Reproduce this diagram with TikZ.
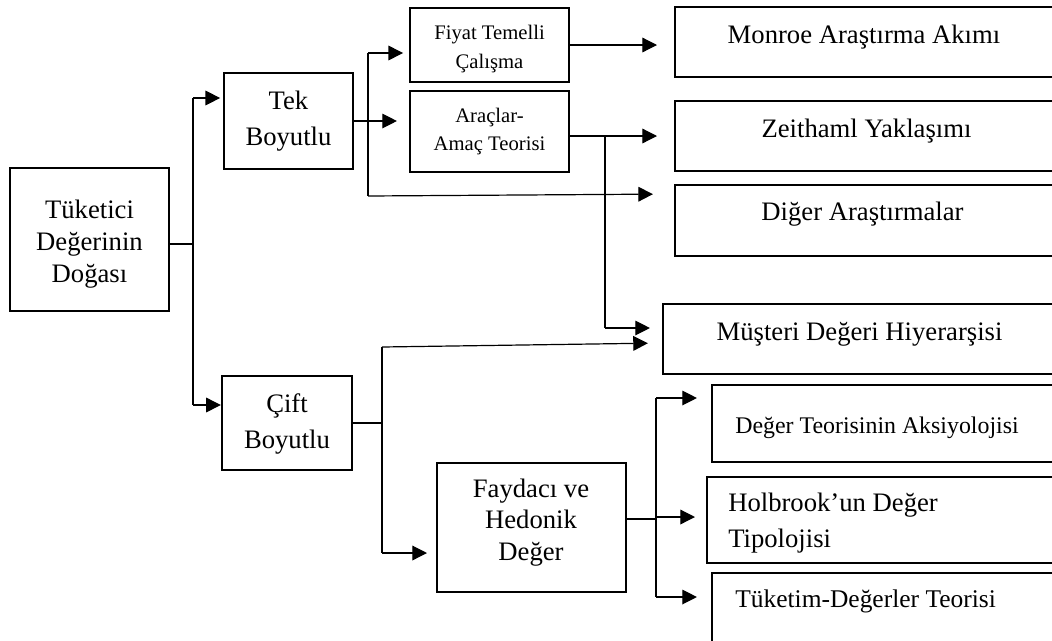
\documentclass[tikz,border=0pt]{standalone}
\usepackage{fontspec}
\setmainfont{Liberation Serif}
\usetikzlibrary{arrows.meta,fit,calc}
\begin{document}
\begin{tikzpicture}[x=0.75pt,y=-0.75pt,
  box/.style={draw, line width=1.8pt, inner sep=0pt},
  wire/.style={line width=0.9pt},
  arr/.style={wire, -{Triangle[length=11pt,width=11pt]}},
  lbl/.style={anchor=base, inner sep=0pt, align=center,
    font=\fontsize{20pt}{24pt}\selectfont},
  small/.style={font=\fontsize{15.5pt}{21.5pt}\selectfont},
]
\clip (0,0) rectangle (1052,640);

% boxes (corner to corner)
\node[box, fit={(10,168)(169,311)}]  (tuk) {};
\node[box, fit={(224,73)(353,169)}]  (tek) {};
\node[box, fit={(222,376)(352,470)}] (cift) {};
\node[box, fit={(410,8)(569,82)}]    (fiyat) {};
\node[box, fit={(410,91)(569,172)}]  (arac) {};
\node[box, fit={(437,463)(626,592)}] (fayd) {};
\node[box, fit={(675,7)(1060,77)}]    (monroe) {};
\node[box, fit={(675,101)(1060,171)}] (zeit) {};
\node[box, fit={(675,185)(1060,256)}] (diger) {};
\node[box, fit={(663,304)(1060,374)}] (must) {};
\node[box, fit={(712,385)(1060,462)}] (aksi) {};
\node[box, fit={(707,477)(1060,563)}] (holb) {};
\node[box, fit={(712,573)(1060,660)}] (tukt) {};

% texts (placed by the baseline of their last line)
\node[lbl] (tuk-t) at (89.5,282) {Tüketici\\Değerinin\\Doğası};
\node[lbl, font=\fontsize{20pt}{27pt}\selectfont] (tek-t) at (288.5,145) {Tek\\Boyutlu};
\node[lbl, font=\fontsize{20pt}{26.5pt}\selectfont] (cift-t) at (287,448) {Çift\\Boyutlu};
\node[lbl, small] (fiyat-t) at (489.5,68) {Fiyat Temelli\\Çalışma};
\node[lbl, font=\fontsize{15.5pt}{21pt}\selectfont] (arac-t) at (489.5,150) {Araçlar-\\Amaç Teorisi};
\node[lbl, font=\fontsize{20pt}{23.3pt}\selectfont] (fayd-t) at (531,560) {Faydacı ve\\Hedonik\\Değer};
\node[lbl] (monroe-t) at (864,43) {Monroe Araştırma Akımı};
\node[lbl] (zeit-t) at (866.5,137) {Zeithaml Yaklaşımı};
\node[lbl] (diger-t) at (862.5,220) {Diğer Araştırmalar};
\node[lbl] (must-t) at (859.5,340) {Müşteri Değeri Hiyerarşisi};
\node[lbl, font=\fontsize{17.9pt}{22pt}\selectfont] (aksi-t) at (877,433) {Değer Teorisinin Aksiyolojisi};
\node[lbl, anchor=base west, align=left, font=\fontsize{20pt}{26.3pt}\selectfont] (holb-t) at (728,547) {Holbrook’un Değer\\Tipolojisi};
\node[lbl, anchor=base west, font=\fontsize{19.1pt}{23pt}\selectfont] (tukt-t) at (735,607) {Tüketim-Değerler Teorisi};

% junction points of the branching lines
\coordinate (j1) at (193,244);
\coordinate (j1t) at (193,98);
\coordinate (j1b) at (193,405);
\coordinate (j2t) at (368,53);
\coordinate (j2b) at (368,196);
\coordinate (j3) at (605,136);
\coordinate (j3b) at (605,328);
\coordinate (j4) at (382,423);
\coordinate (j4t) at (382,347);
\coordinate (j4b) at (382,553);
\coordinate (j5) at (656,519);
\coordinate (j5t) at (656,398);
\coordinate (j5m) at (656,517);
\coordinate (j5b) at (656,597);

% Tüketici Değerinin Doğası
\draw[wire] (tuk.east |- j1) -- (j1);
\draw[wire] (j1t) -- (j1b);
\draw[arr, shorten >=2pt] (j1t) -- (tek.west |- j1t);
\draw[arr] (j1b) -- (cift.west |- j1b);

% Tek Boyutlu
\draw[arr, shorten >=8.9pt] (tek.east) -- (arac.west |- tek.east);
\draw[wire] (j2t) -- (j2b);
\draw[arr, shorten >=4.3pt] (j2t) -- (fiyat.west |- j2t);
\draw[arr, shorten >=15.6pt] (j2b) -- ($(diger.west |- j2b)+(0,-2)$);
\draw[arr, shorten >=12.6pt] (fiyat.east |- 0,45) -- (monroe.west |- 0,45);
\draw[arr, shorten >=12.6pt] (arac.east |- j3) -- (zeit.west |- j3);
\draw[wire] (j3) -- (j3b);
\draw[arr, shorten >=8.9pt] (j3b) -- (must.west |- j3b);

% Çift Boyutlu
\draw[wire] (cift.east |- j4) -- (j4);
\draw[wire] (j4t) -- (j4b);
\draw[arr, shorten >=10.4pt] (j4t) -- ($(must.west |- j4t)+(0,-4)$);
\draw[arr, shorten >=6.6pt] (j4b) -- (fayd.west |- j4b);

% Faydacı ve Hedonik Değer
\draw[wire] (fayd.east |- j5) -- (j5);
\draw[wire] (j5t) -- (j5b);
\draw[arr, shorten >=10.4pt] (j5t) -- (aksi.west |- j5t);
\draw[arr, shorten >=8.1pt] (j5m) -- (holb.west |- j5m);
\draw[arr, shorten >=10.4pt] (j5b) -- (tukt.west |- j5b);
\end{tikzpicture}
\end{document}
